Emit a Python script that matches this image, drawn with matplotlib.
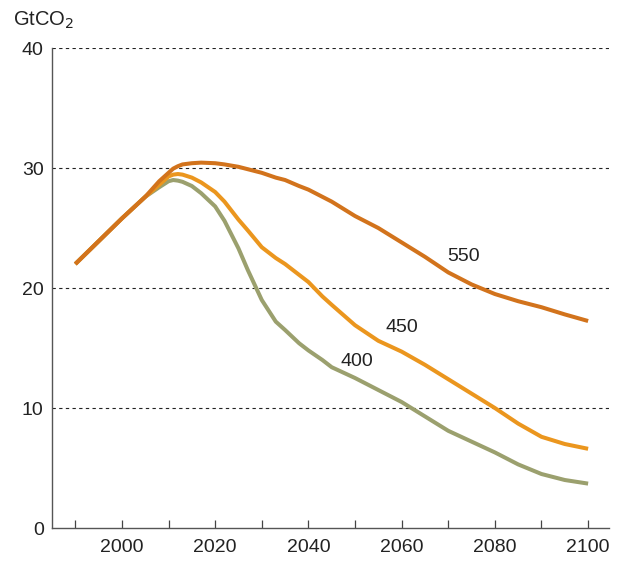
import numpy as np
import matplotlib.pyplot as plt

plt.rcParams['font.family'] = ['Liberation Sans', 'DejaVu Sans']

# emission paths, GtCO2
years = [1990, 1995, 2000, 2005, 2008, 2010, 2011, 2012, 2013, 2015, 2017, 2020, 2022,
         2025, 2027, 2030, 2033, 2035, 2038, 2040, 2043, 2045, 2050, 2055, 2060, 2065,
         2070, 2075, 2080, 2085, 2090, 2095, 2100]
ppm550 = [22.0, 23.9, 25.8, 27.6, 28.9, 29.6, 29.95, 30.15, 30.3, 30.4, 30.45, 30.4, 30.3,
          30.1, 29.9, 29.6, 29.2, 29.0, 28.5, 28.2, 27.6, 27.2, 26.0, 25.0, 23.8, 22.6,
          21.3, 20.3, 19.5, 18.9, 18.4, 17.8, 17.25]
ppm450 = [22.0, 23.9, 25.8, 27.6, 28.6, 29.3, 29.45, 29.5, 29.45, 29.2, 28.8, 28.0, 27.2,
          25.7, 24.8, 23.4, 22.5, 22.0, 21.1, 20.5, 19.3, 18.6, 16.9, 15.6, 14.7, 13.6,
          12.4, 11.2, 10.0, 8.7, 7.6, 7.0, 6.6]
ppm400 = [22.0, 23.9, 25.8, 27.6, 28.4, 28.9, 29.0, 28.95, 28.85, 28.5, 27.9, 26.8, 25.6,
          23.3, 21.5, 19.0, 17.2, 16.5, 15.4, 14.8, 14.0, 13.4, 12.5, 11.5, 10.5, 9.3,
          8.1, 7.2, 6.3, 5.3, 4.5, 4.0, 3.7]

labels = ['550', '450', '400']
label_pos = [(2073.2, 22.6), (2060.0, 16.7), (2050.3, 13.9)]
colors = ['#D2731C', '#EB961E', '#9BA06E']

fig = plt.figure(figsize=(6.19, 5.61), dpi=100)
ax = fig.add_axes([0.084, 0.0588, 0.9, 0.8556])

for ys, c, z in [(ppm400, colors[2], 2), (ppm450, colors[1], 3), (ppm550, colors[0], 4)]:
    ax.plot(years, ys, color=c, lw=2.9, solid_capstyle='butt', solid_joinstyle='round', zorder=z)

for lab, (x, y) in zip(labels, label_pos):
    ax.text(x, y, lab, fontsize=14, color='#222222', ha='center', va='center', zorder=5)

ax.set_xlim(1985, 2104.5)
ax.set_ylim(0, 40)

for gy in [10, 20, 30, 40]:
    ax.axhline(gy, color='#222222', lw=0.8, ls=(0, (3, 3)), zorder=1)

ax.set_xticks(np.arange(1990, 2101, 10))
ax.set_xticklabels(['' if y % 20 else str(y) for y in range(1990, 2101, 10)])
ax.set_yticks([0, 10, 20, 30, 40])
ax.tick_params(axis='x', direction='in', length=6, width=0.9, color='#444444',
               labelsize=14, labelcolor='#222222', pad=8)
ax.tick_params(axis='y', length=0, labelsize=14, labelcolor='#222222', pad=6)

for s in ['top', 'right']:
    ax.spines[s].set_visible(False)
ax.spines['left'].set_color('#555555')
ax.spines['bottom'].set_color('#555555')
ax.spines['left'].set_linewidth(1.0)
ax.spines['bottom'].set_linewidth(1.0)

fig.text(0.021, 0.964, 'GtCO$_2$', fontsize=14.5, color='#222222', ha='left', va='center')

fig.savefig('out.png', dpi=100)
